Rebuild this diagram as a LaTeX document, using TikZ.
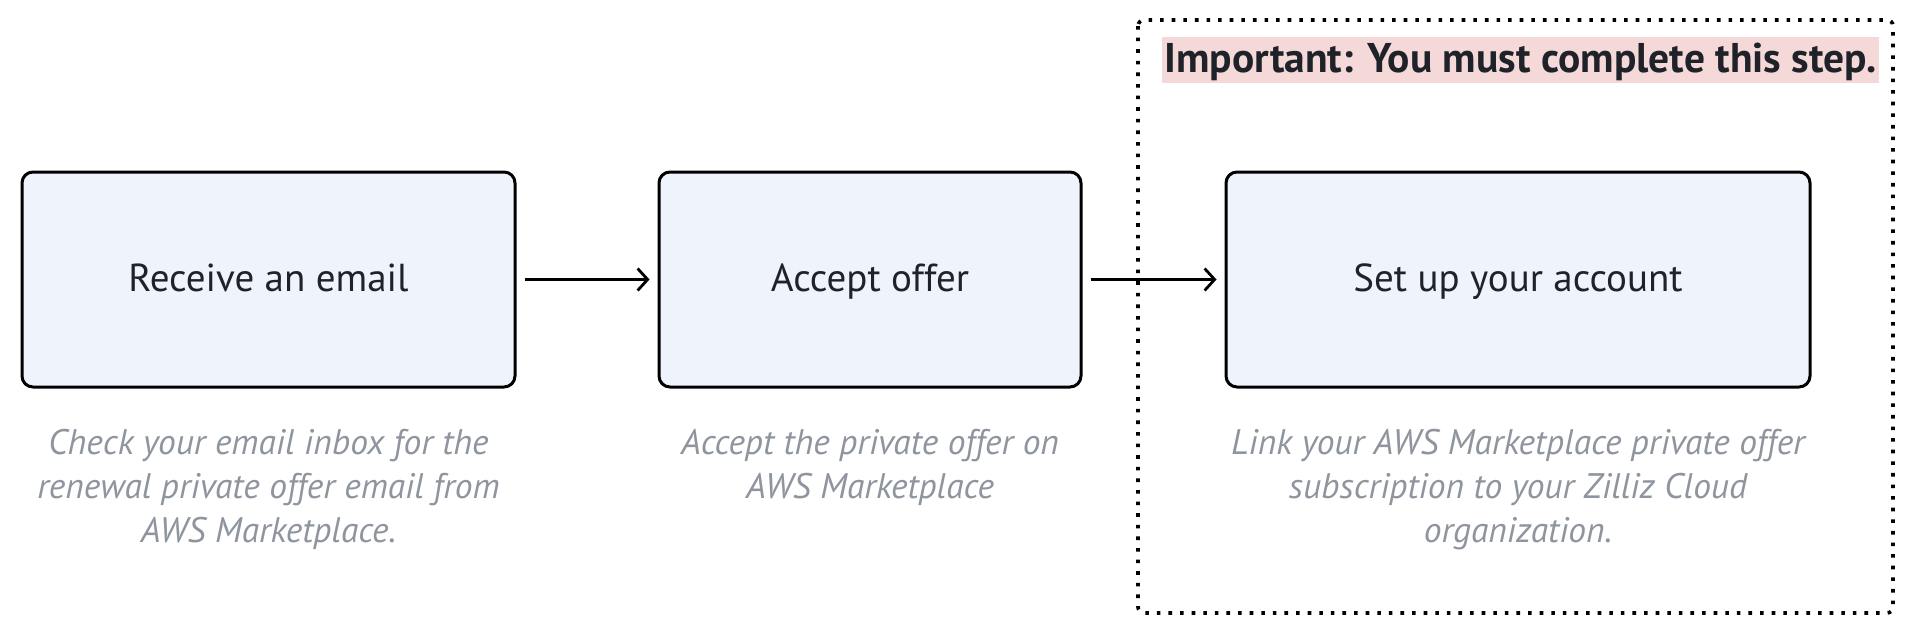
\documentclass[tikz,border=0pt]{standalone}
\usepackage{fontspec}
\setmainfont{PT Sans}
\usetikzlibrary{arrows.meta}
\definecolor{boxfill}{HTML}{EFF4FC}
\definecolor{txt}{HTML}{1F2329}
\definecolor{cap}{HTML}{8F959E}
\definecolor{hl}{HTML}{F5D8D8}
\tikzset{
  stepbox/.style={draw=black, line width=3pt, fill=boxfill, rounded corners=11pt, inner sep=0pt, text=txt, font=\fontsize{39}{44}\selectfont, text depth=4pt},
  captext/.style={text=cap, font=\itshape\fontsize{35.5}{44}\selectfont, align=center, inner sep=0pt},
  conn/.style={line width=2.8pt, -{Straight Barb[length=10pt,width=22pt,line width=2.8pt]}},
  dotbox/.style={draw=black, line width=3.6pt, dash pattern=on 3.6pt off 8pt, rounded corners=6pt}
}
\begin{document}
\begin{tikzpicture}[x=1pt,y=1pt]
\useasboundingbox (0,0) rectangle (1918,-637);
\draw[dotbox] (1138,-20) rectangle (1893,-613);
\node[fill=hl, minimum width=717pt, minimum height=46pt, inner sep=0pt, anchor=north west] (hlbox) at (1162,-37) {};
\node[text=txt, font=\bfseries\fontsize{41.5}{44}\selectfont, inner sep=0pt] (title) at ([yshift=-2pt]hlbox.center) {Important: You must complete this step.};
\node[stepbox, minimum width=493pt, minimum height=215pt] (b1) at (268.5,-279.5) {Receive an email};
\node[stepbox, minimum width=422pt, minimum height=215pt] (b2) at (870,-279.5) {Accept offer};
\node[stepbox, minimum width=584pt, minimum height=215pt] (b3) at (1518,-279.5) {Set up your account};
\draw[conn] ([xshift=8pt]b1.east) -- ([xshift=-8pt]b2.west);
\draw[conn] ([xshift=8pt]b2.east) -- ([xshift=-8pt]b3.west);
\node[captext, anchor=north] (c1) at (268.5,-429) {Check your email inbox for the\\renewal private offer email from\\AWS Marketplace.};
\node[captext, anchor=north] (c2) at (870,-429) {Accept the private offer on\\AWS Marketplace};
\node[captext, anchor=north] (c3) at (1518,-429) {Link your AWS Marketplace private offer\\subscription to your Zilliz Cloud\\organization.};
\end{tikzpicture}
\end{document}
